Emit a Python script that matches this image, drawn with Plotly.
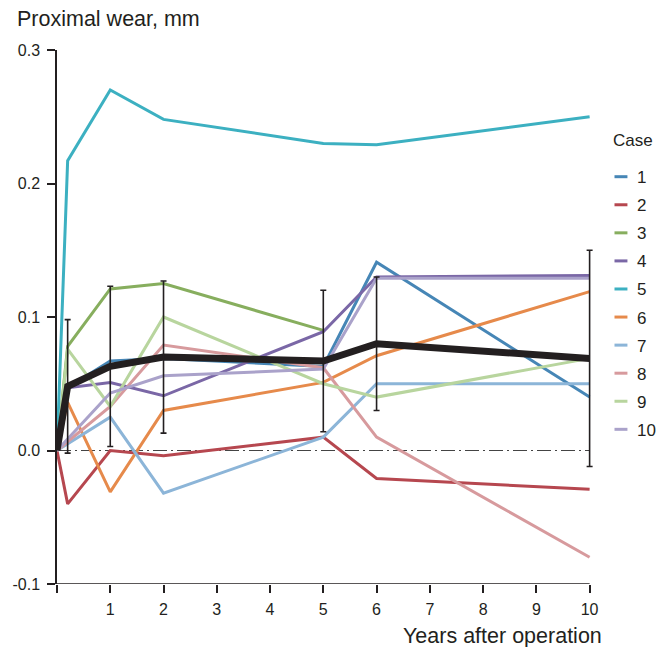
import plotly.graph_objects as go

# ---- data ----
years = [0, 0.2, 1, 2, 5, 6, 10]
case_labels = ["1", "2", "3", "4", "5", "6", "7", "8", "9", "10"]
case1 = [0, 0.047, 0.067, 0.069, 0.063, 0.141, 0.040]
case2 = [0, -0.040, 0.000, -0.004, 0.010, -0.021, -0.029]
case3 = [0, 0.078, 0.121, 0.125, 0.090, None, None]
case4 = [0, 0.047, 0.051, 0.041, 0.089, 0.130, 0.131]
case5 = [0, 0.217, 0.270, 0.248, 0.230, 0.229, 0.250]
case6 = [0, 0.036, -0.031, 0.030, 0.051, 0.071, 0.119]
case7 = [0, None, 0.025, -0.032, 0.010, 0.050, 0.050]
case8 = [0, None, 0.033, 0.079, 0.062, 0.010, -0.080]
case9 = [0, 0.076, 0.033, 0.100, 0.050, 0.040, 0.069]
case10 = [0, None, 0.043, 0.056, 0.061, 0.129, 0.129]
mean_wear = [0, 0.048, 0.063, 0.070, 0.067, 0.080, 0.069]
sd_wear = [0, 0.050, 0.060, 0.057, 0.053, 0.050, 0.081]
x_ticks = [0, 1, 2, 3, 4, 5, 6, 7, 8, 9, 10]
x_ticktext = ["", "1", "2", "3", "4", "5", "6", "7", "8", "9", "10"]
y_ticks = [-0.1, 0.0, 0.1, 0.2, 0.3]
y_ticktext = ["-0.1", "0.0", "0.1", "0.2", "0.3"]

cases = [case1, case2, case3, case4, case5, case6, case7, case8, case9, case10]
colors = ["#4686b6", "#b6474f", "#87ae5e", "#7a67a6", "#3cb0c1",
          "#e68a4b", "#8cb5d8", "#d79a9d", "#b8d59e", "#aaa2ca"]

INK = "#231f20"
FONT = "Liberation Sans, Arial, sans-serif"
W, H = 665, 647
X_MAX = 10.12                      # a little room right of 10 for the last error-bar cap
L, T, B = 55, 50, 63
PX_PER_YEAR = 53.5
PW = PX_PER_YEAR * X_MAX
R = W - L - PW
PH = H - T - B


def px2paper_x(px):
    return (px - L) / PW


def px2paper_y(py):
    return (H - B - py) / PH


fig = go.Figure()

for vals, col, name in zip(cases, colors, case_labels):
    fig.add_trace(go.Scatter(
        x=years, y=vals, mode="lines", name=name, connectgaps=True,
        line=dict(color=col, width=3), showlegend=False))

fig.add_trace(go.Scatter(
    x=years, y=mean_wear, mode="lines", line=dict(color=INK, width=7),
    showlegend=False))

fig.add_trace(go.Scatter(
    x=years[1:], y=mean_wear[1:], mode="markers",
    marker=dict(size=1, color="rgba(0,0,0,0)"),
    error_y=dict(type="data", array=sd_wear[1:], visible=True,
                 color=INK, thickness=1.6, width=3),
    showlegend=False))

# zero reference line
fig.add_shape(type="line", xref="x", yref="y", x0=0, x1=10, y0=0, y1=0,
              line=dict(color="#444444", width=1.2, dash="14px,4px,2px,4px"),
              layer="below")
# x axis line (only from 0 to 10)
fig.add_shape(type="line", xref="x", yref="y", x0=0, x1=10, y0=-0.1, y1=-0.1,
              line=dict(color=INK, width=1.5), layer="above")

# manual legend
fig.add_annotation(xref="paper", yref="paper", x=px2paper_x(611), y=px2paper_y(140),
                   text="Case", showarrow=False, xanchor="left", yanchor="middle",
                   font=dict(family=FONT, size=17, color=INK))
for i, (col, name) in enumerate(zip(colors, case_labels)):
    py = 176.7 + 28.07 * i
    fig.add_shape(type="line", xref="paper", yref="paper",
                  x0=px2paper_x(615), x1=px2paper_x(628),
                  y0=px2paper_y(py), y1=px2paper_y(py),
                  line=dict(color=col, width=3))
    fig.add_annotation(xref="paper", yref="paper", x=px2paper_x(636), y=px2paper_y(py + 1),
                       text=name, showarrow=False, xanchor="left", yanchor="middle",
                       font=dict(family=FONT, size=17, color=INK))

# axis titles
fig.add_annotation(xref="paper", yref="paper", x=px2paper_x(13), y=px2paper_y(19),
                   text="Proximal wear, mm", showarrow=False, xanchor="left",
                   yanchor="middle", font=dict(family=FONT, size=21.5, color=INK))
fig.add_annotation(xref="paper", yref="paper", x=px2paper_x(604), y=px2paper_y(636),
                   text="Years after operation", showarrow=False, xanchor="right",
                   yanchor="middle", font=dict(family=FONT, size=21.5, color=INK))

fig.update_layout(
    width=W, height=H,
    margin=dict(l=L, r=R, t=T, b=B),
    paper_bgcolor="white", plot_bgcolor="white",
    font=dict(family=FONT, color=INK, size=16),
    xaxis=dict(range=[0, X_MAX], tickvals=x_ticks, ticktext=x_ticktext,
               showgrid=False, zeroline=False, showline=False,
               ticks="outside", ticklen=8, tickwidth=1.5, ticklabelstandoff=3,
               tickcolor=INK, tickfont=dict(size=16, family=FONT, color=INK)),
    yaxis=dict(range=[-0.1, 0.3], tickvals=y_ticks, ticktext=y_ticktext,
               showgrid=False, zeroline=False, showline=True, linecolor=INK,
               linewidth=1.5, ticks="outside", ticklen=8, tickwidth=1.5,
               ticklabelstandoff=4,
               tickcolor=INK, tickfont=dict(size=16, family=FONT, color=INK)),
)

fig.write_html("out.html", config={"displayModeBar": False},
               post_script="document.body.style.margin='0';document.body.style.overflow='hidden';")
